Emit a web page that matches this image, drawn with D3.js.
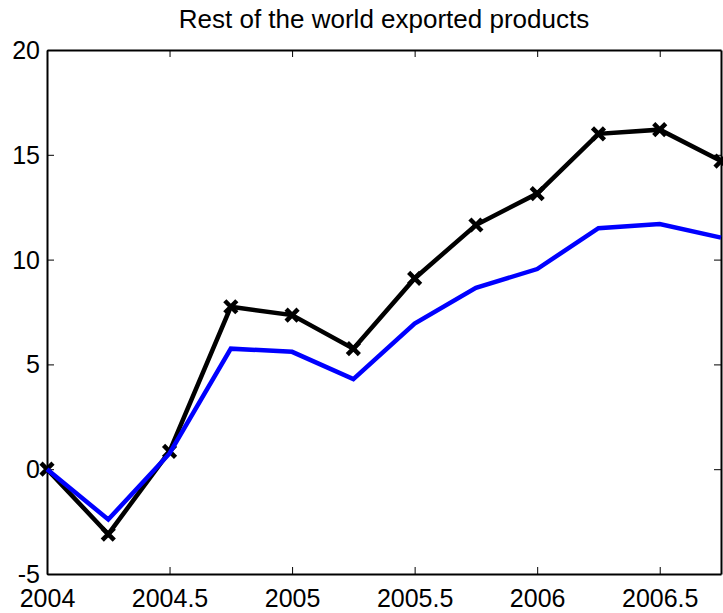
<!DOCTYPE html>
<html>
<head>
<meta charset="utf-8">
<script src="https://cdn.jsdelivr.net/npm/d3@7"></script>
<style>
  html, body { margin: 0; padding: 0; background: #fff; }
  svg text { font-family: "Liberation Sans", Arial, Helvetica, sans-serif; fill: #000; }
</style>
</head>
<body>
<svg id="chart" width="723" height="613"></svg>
<script>
// Quarterly observations
const quarters = [2004, 2004.25, 2004.5, 2004.75, 2005, 2005.25, 2005.5, 2005.75, 2006, 2006.25, 2006.5, 2006.75];
const seriesBlack = [0, -3.1, 0.85, 7.75, 7.35, 5.75, 9.1, 11.65, 13.15, 16.0, 16.2, 14.7];
const seriesBlue  = [0, -2.4, 0.75, 5.75, 5.6, 4.3, 6.95, 8.65, 9.55, 11.5, 11.7, 11.05];
const xTicks = [2004, 2004.5, 2005, 2005.5, 2006, 2006.5];
const yTicks = [-5, 0, 5, 10, 15, 20];
const title = "Rest of the world exported products";

const svg = d3.select("#chart");
const plotLeft = 47, plotRight = 721, plotTop = 50, plotBottom = 574;

const x = d3.scaleLinear().domain([2004, 2006.75]).range([plotLeft, plotRight]);
const y = d3.scaleLinear().domain([-5, 20]).range([plotBottom, plotTop]);

const fmt = d => String(d);
const tickLen = 7;

// Axes with inward ticks on all four sides
const gB = svg.append("g").attr("transform", `translate(0,${plotBottom})`)
  .call(d3.axisBottom(x).tickValues(xTicks).tickFormat(fmt).tickSizeInner(-tickLen).tickSizeOuter(0).tickPadding(14));
const gT = svg.append("g").attr("transform", `translate(0,${plotTop})`)
  .call(d3.axisTop(x).tickValues(xTicks).tickFormat("").tickSizeInner(-tickLen).tickSizeOuter(0));
const gL = svg.append("g").attr("transform", `translate(${plotLeft},0)`)
  .call(d3.axisLeft(y).tickValues(yTicks).tickFormat(fmt).tickSizeInner(-tickLen).tickSizeOuter(0).tickPadding(14));
const gR = svg.append("g").attr("transform", `translate(${plotRight},0)`)
  .call(d3.axisRight(y).tickValues(yTicks).tickFormat("").tickSizeInner(-tickLen).tickSizeOuter(0));

[gB, gT, gL, gR].forEach(g => {
  g.select(".domain").attr("stroke", "#000").attr("stroke-width", 2);
  g.selectAll(".tick line").attr("stroke", "#000").attr("stroke-width", 1);
  g.selectAll(".tick text").attr("font-size", 25).attr("fill", "#000");
});
gB.selectAll(".tick text").attr("dy", "0.71em").attr("y", 15);
gL.selectAll(".tick text").attr("x", -7).attr("dy", "0.34em");

// Title
svg.append("text")
  .attr("x", (plotLeft + plotRight) / 2)
  .attr("y", 28)
  .attr("text-anchor", "middle")
  .attr("font-size", 26)
  .text(title);

const line = d3.line().x((d, i) => x(quarters[i])).y(d => y(d));

// Black series with x markers
svg.append("path")
  .datum(seriesBlack)
  .attr("d", line)
  .attr("fill", "none")
  .attr("stroke", "#000")
  .attr("stroke-width", 4.5)
  .attr("stroke-linejoin", "miter");

const m = 6;
svg.append("g").selectAll("path.marker")
  .data(seriesBlack)
  .join("path")
  .attr("class", "marker")
  .attr("d", (d, i) => {
    const cx = x(quarters[i]), cy = y(d);
    return `M${cx - m},${cy - m}L${cx + m},${cy + m}M${cx - m},${cy + m}L${cx + m},${cy - m}`;
  })
  .attr("stroke", "#000")
  .attr("stroke-width", 4.5)
  .attr("fill", "none");

// Blue series
svg.append("path")
  .datum(seriesBlue)
  .attr("d", line)
  .attr("fill", "none")
  .attr("stroke", "#0000ff")
  .attr("stroke-width", 4.5)
  .attr("stroke-linejoin", "miter");
</script>
</body>
</html>
